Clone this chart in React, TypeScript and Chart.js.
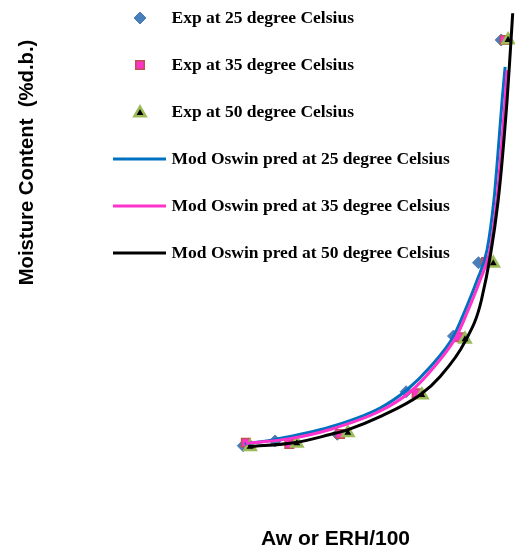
import React, { useEffect, useRef } from 'react';
import { Chart, registerables } from 'chart.js';

Chart.register(...registerables);

// ---- Data ----
const legendLabels = [
  'Exp at 25 degree Celsius',
  'Exp at 35 degree Celsius',
  'Exp at 50 degree Celsius',
  'Mod Oswin pred at 25 degree Celsius',
  'Mod Oswin pred at 35 degree Celsius',
  'Mod Oswin pred at 50 degree Celsius',
];
const xTitle = 'Aw or ERH/100';
const yTitle = 'Moisture Content  (%d.b.)';

const exp25Aw = [0.104, 0.201, 0.390, 0.599, 0.743, 0.819, 0.888];
const exp25MC = [2.07, 2.47, 3.04, 6.66, 11.40, 17.64, 36.60];
const exp35Aw = [0.112, 0.244, 0.398, 0.631, 0.761, 0.842, 0.898];
const exp35MC = [2.32, 2.21, 3.06, 6.53, 11.29, 17.70, 36.60];
const exp50Aw = [0.125, 0.267, 0.422, 0.647, 0.778, 0.864, 0.909];
const exp50MC = [1.98, 2.27, 3.17, 6.38, 11.12, 17.59, 36.60];

const pred25Aw = [0.109, 0.201, 0.368, 0.520, 0.601, 0.672, 0.742, 0.775, 0.815, 0.845, 0.866, 0.879, 0.891, 0.900];
const pred25MC = [2.21, 2.60, 3.66, 5.28, 6.81, 8.77, 11.32, 13.36, 16.17, 18.72, 22.98, 27.23, 31.49, 34.30];
const pred35Aw = [0.113, 0.246, 0.368, 0.520, 0.611, 0.684, 0.751, 0.784, 0.824, 0.854, 0.875, 0.888, 0.900, 0.906];
const pred35MC = [2.26, 2.67, 3.45, 5.02, 6.64, 8.77, 11.32, 13.36, 16.17, 18.72, 22.98, 27.23, 31.49, 34.04];
const pred50Aw = [0.119, 0.264, 0.368, 0.419, 0.520, 0.641, 0.702, 0.778, 0.828, 0.879, 0.906, 0.916, 0.923];
const pred50MC = [1.98, 2.34, 3.02, 3.40, 4.54, 6.38, 7.94, 10.92, 14.47, 22.98, 31.49, 35.74, 38.87];

const xMin = 0;
const xMax = 0.93;
const yMin = 0;
const yMax = 40;

const pts = (xs: number[], ys: number[]) => xs.map((x, i) => ({ x, y: ys[i] }));

function drawMarker(ctx: CanvasRenderingContext2D, style: string, cx: number, cy: number, r: number) {
  ctx.beginPath();
  if (style === 'rectRot') {
    ctx.moveTo(cx - r, cy);
    ctx.lineTo(cx, cy - r);
    ctx.lineTo(cx + r, cy);
    ctx.lineTo(cx, cy + r);
    ctx.closePath();
  } else if (style === 'rect') {
    const s = Math.SQRT1_2 * r;
    ctx.rect(cx - s, cy - s, 2 * s, 2 * s);
  } else {
    const a = (2 * Math.PI) / 3;
    ctx.moveTo(cx, cy - r);
    ctx.lineTo(cx + Math.sin(a) * r, cy - Math.cos(a) * r);
    ctx.lineTo(cx + Math.sin(2 * a) * r, cy - Math.cos(2 * a) * r);
    ctx.closePath();
  }
}

const overlayPlugin = {
  id: 'overlayText',
  afterDraw(chart: any) {
    const ctx: CanvasRenderingContext2D = chart.ctx;
    ctx.save();
    const items = chart.options.plugins.overlayText.items as any[];
    ctx.font = 'bold 17.5px "Liberation Serif", "Times New Roman", serif';
    ctx.textBaseline = 'alphabetic';
    ctx.textAlign = 'left';
    items.forEach((it, i) => {
      const cy = 18 + i * 47;
      if (it.kind === 'point') {
        drawMarker(ctx, it.pointStyle, 140, cy + (it.pointStyle === 'triangle' ? 1 : 0), it.radius);
        ctx.fillStyle = it.fill;
        ctx.fill();
        ctx.lineWidth = it.borderWidth;
        ctx.strokeStyle = it.border;
        ctx.stroke();
      } else {
        ctx.beginPath();
        ctx.moveTo(113, cy);
        ctx.lineTo(166, cy);
        ctx.lineWidth = 3;
        ctx.strokeStyle = it.color;
        ctx.stroke();
      }
      ctx.fillStyle = '#000';
      ctx.fillText(it.label, 171.5, cy + 5);
    });
    ctx.fillStyle = '#000';
    ctx.font = 'bold 21px "Liberation Sans", Arial, sans-serif';
    ctx.textAlign = 'center';
    ctx.fillText(xTitle, 335.5, 545);
    ctx.save();
    ctx.translate(33, 162.5);
    ctx.rotate(-Math.PI / 2);
    ctx.font = 'bold 20.3px "Liberation Sans", Arial, sans-serif';
    ctx.fillText(yTitle, 0, 0);
    ctx.restore();
    ctx.restore();
  },
};

const blue = '#0070C0';
const pink = '#FF33CC';
const black = '#000000';

export default function App() {
  const ref = useRef<HTMLCanvasElement | null>(null);
  useEffect(() => {
    if (!ref.current) return;
    const lineDs = (label: string, data: any[], color: string, order: number) => ({
      label,
      data,
      type: 'line' as const,
      showLine: true,
      borderColor: color,
      backgroundColor: color,
      borderWidth: 3,
      pointRadius: 0,
      cubicInterpolationMode: 'monotone' as const,
      fill: false,
      order,
    });
    const pointDs = (label: string, data: any[], style: string, fill: string, border: string, bw: number, r: number, order: number) => ({
      label,
      data,
      type: 'scatter' as const,
      showLine: false,
      pointStyle: style,
      pointRadius: r,
      pointBackgroundColor: fill,
      pointBorderColor: border,
      pointBorderWidth: bw,
      backgroundColor: fill,
      borderColor: border,
      order,
    });
    const chart = new Chart(ref.current, {
      type: 'scatter',
      data: {
        datasets: [
          pointDs(legendLabels[0], pts(exp25Aw, exp25MC), 'rectRot', '#4A7EBB', '#4A7EBB', 1, 6, 5),
          pointDs(legendLabels[1], pts(exp35Aw, exp35MC), 'rect', '#FF33CC', '#C0504D', 1.5, 6, 4),
          pointDs(legendLabels[2], pts(exp50Aw, exp50MC), 'triangle', '#000000', '#9BBB59', 2.5, 6.5, 3),
          lineDs(legendLabels[3], pts(pred25Aw, pred25MC), blue, 2),
          lineDs(legendLabels[4], pts(pred35Aw, pred35MC), pink, 1),
          lineDs(legendLabels[5], pts(pred50Aw, pred50MC), black, 0),
        ],
      },
      options: {
        responsive: false,
        animation: false,
        layout: { autoPadding: false, padding: { left: 209, right: 0, top: 0, bottom: 81 } },
        scales: {
          x: { type: 'linear', min: xMin, max: xMax, display: false },
          y: { type: 'linear', min: yMin, max: yMax, display: false },
        },
        plugins: {
          legend: { display: false },
          tooltip: { enabled: false },
          overlayText: {
            items: [
              { kind: 'point', label: legendLabels[0], pointStyle: 'rectRot', fill: '#4A7EBB', border: '#4A7EBB', borderWidth: 1, radius: 6 },
              { kind: 'point', label: legendLabels[1], pointStyle: 'rect', fill: '#FF33CC', border: '#C0504D', borderWidth: 1.5, radius: 6 },
              { kind: 'point', label: legendLabels[2], pointStyle: 'triangle', fill: '#000000', border: '#9BBB59', borderWidth: 2.5, radius: 6.5 },
              { kind: 'line', label: legendLabels[3], color: blue },
              { kind: 'line', label: legendLabels[4], color: pink },
              { kind: 'line', label: legendLabels[5], color: black },
            ],
          },
        } as any,
      },
      plugins: [overlayPlugin],
    });
    return () => chart.destroy();
  }, []);
  return (
    <div style={{ position: 'absolute', left: 0, top: 0, width: 515, height: 551, background: '#fff' }}>
      <canvas ref={ref} width={515} height={551} style={{ display: 'block' }} />
    </div>
  );
}
